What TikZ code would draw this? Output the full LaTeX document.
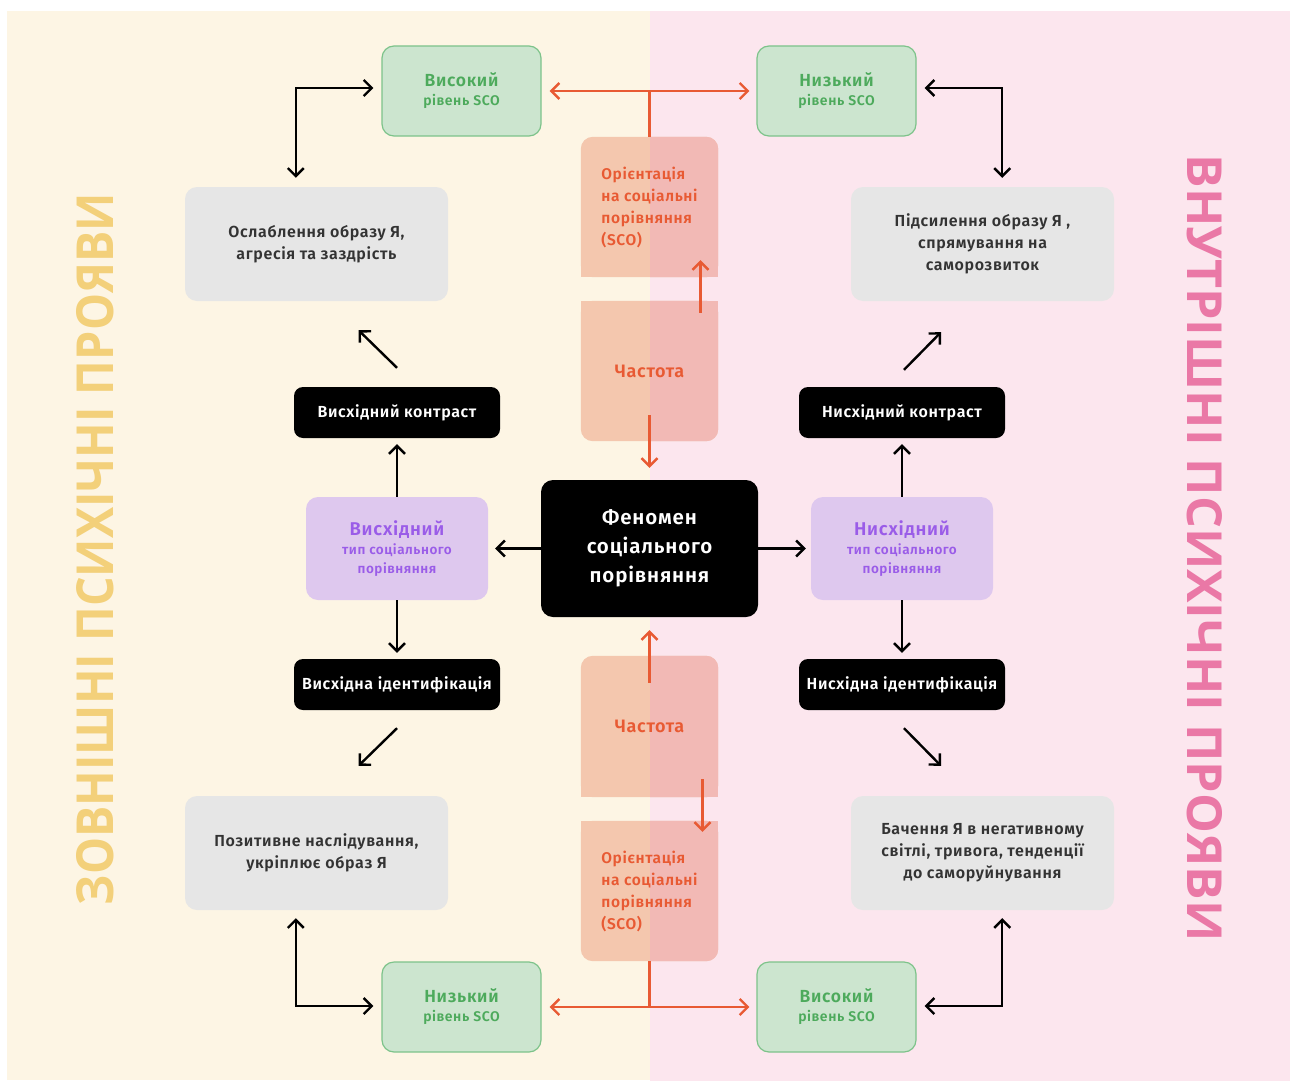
\documentclass[tikz,border=0pt]{standalone}
\usepackage{fontspec}
\setmainfont{Fira Sans}[BoldFont={Fira Sans SemiBold},LetterSpace=4]
\newfontfamily\sidefont{Open Sans}
\usetikzlibrary{arrows.meta,calc,backgrounds}
\definecolor{creamC}{HTML}{FDF5E4}
\definecolor{pinkC}{HTML}{FCE6EE}
\definecolor{grF}{HTML}{CCE5CF}
\definecolor{grD}{HTML}{7DC38A}
\definecolor{grT}{HTML}{4DAA5C}
\definecolor{gyF}{HTML}{E6E6E6}
\definecolor{gyT}{HTML}{333333}
\definecolor{puF}{HTML}{DEC8EE}
\definecolor{puT}{HTML}{9A5CE8}
\definecolor{orT}{HTML}{E85A33}
\definecolor{salL}{HTML}{F4C7AE}
\definecolor{salR}{HTML}{F2B9B5}
\definecolor{sideY}{HTML}{F3D07A}
\definecolor{sideP}{HTML}{EA78A6}
\newcommand\salfill[2]{%
  \fill[salL,rounded corners=12] #1; \fill[salL] #2;
  \begin{scope}\clip (650,0) rectangle (1290,1081);
    \fill[salR,rounded corners=12] #1; \fill[salR] #2;
  \end{scope}}
\begin{document}
\begin{tikzpicture}[x=1pt,y=-1pt,font=\bfseries,
  >={Straight Barb[length=8pt,width=16pt]},
  greenbox/.style={rounded corners=12,inner sep=0,align=center,minimum width=159,minimum height=90,fill=grF,draw=grD,line width=1.2,text=grT,font=\bfseries\fontsize{14}{19}\selectfont},
  greybox/.style={rounded corners=12,inner sep=0,align=center,minimum width=263,minimum height=114,fill=gyF,text=gyT,font=\bfseries\fontsize{16}{22}\selectfont},
  blackbox/.style={rounded corners=9,inner sep=0,align=center,minimum width=206,minimum height=51,fill=black,text=white,font=\bfseries\fontsize{16}{20}\selectfont},
  centerbox/.style={rounded corners=12,inner sep=0,align=center,minimum width=217,minimum height=137,fill=black,text=white,font=\bfseries\fontsize{20.5}{29}\selectfont},
  purplebox/.style={rounded corners=12,inner sep=0,align=center,minimum width=182,minimum height=103,fill=puF,text=puT,font=\bfseries\fontsize{13.5}{19}\selectfont},
  salbox/.style={inner sep=0,align=left,minimum width=137,minimum height=140,text=orT,font=\bfseries\fontsize{15.5}{22}\selectfont},
  barr/.style={draw=black,line width=2.4},
  oarr/.style={draw=orT,line width=2.4}]
\useasboundingbox (0,0) rectangle (1290,1081);

% nodes
\node[greenbox] (hiT) at (461.5,91) {{\fontsize{17.5}{19}\selectfont Високий}\\рівень SCO};
\node[greenbox] (loT) at (836.5,91) {{\fontsize{17.5}{19}\selectfont Низький}\\рівень SCO};
\node[greenbox] (loB) at (461.5,1007) {{\fontsize{17.5}{19}\selectfont Низький}\\рівень SCO};
\node[greenbox] (hiB) at (836.5,1007) {{\fontsize{17.5}{19}\selectfont Високий}\\рівень SCO};

\node[greybox] (gTL) at (316.5,244) {Ослаблення образу Я,\\агресія та заздрість};
\node[greybox] (gTR) at (982.5,244) {Підсилення образу Я ,\\спрямування на\\саморозвиток};
\node[greybox] (gBL) at (316.5,853) {Позитивне наслідування,\\укріплює образ Я};
\node[greybox] (gBR) at (982.5,853) {Бачення Я в негативному\\світлі, тривога, тенденції\\до саморуйнування};

\node[blackbox] (ctL) at (397,412.5) {Висхідний контраст};
\node[blackbox] (ctR) at (902,412.5) {Нисхідний контраст};
\node[blackbox] (idL) at (397,684.5) {Висхідна ідентифікація};
\node[blackbox] (idR) at (902,684.5) {Нисхідна ідентифікація};

\node[centerbox] (cen) at (649.5,548.5) {Феномен\\соціального\\порівняння};

\node[purplebox] (purL) at (397,548.5) {{\fontsize{18.5}{20}\selectfont Висхідний}\\тип соціального\\порівняння};
\node[purplebox] (purR) at (902,548.5) {{\fontsize{18.5}{20}\selectfont Нисхідний}\\тип соціального\\порівняння};

\node[salbox] (scoT) at (649.5,207) {Орієнтація\\на соціальні\\порівняння\\(SCO)};
\node[salbox,font=\bfseries\fontsize{18}{22}\selectfont] (freqT) at (649.5,371) {Частота};
\node[salbox,minimum height=141,font=\bfseries\fontsize{18}{22}\selectfont] (freqB) at (649.5,726.5) {Частота};
\node[salbox] (scoB) at (649.5,891) {Орієнтація\\на соціальні\\порівняння\\(SCO)};

% side texts
\node[rotate=90,inner sep=0,text=sideY] (sideL) at (95,549)
  {\resizebox{712pt}{37pt}{\sidefont\bfseries ЗОВНІШНІ ПСИХІЧНІ ПРОЯВИ}};
\node[rotate=-90,inner sep=0,text=sideP] (sideR) at (1205,548)
  {\resizebox{787pt}{35pt}{\sidefont\bfseries ВНУТРІШНІ ПСИХІЧНІ ПРОЯВИ}};

% backgrounds
\begin{scope}[on background layer]
  \fill[white] (0,0) rectangle (1290,1081);
  \fill[creamC] (7,11) rectangle (650,1080);
  \fill[pinkC] (650,11) rectangle (1290,1081);
  \salfill{(scoT.north west) rectangle (scoT.south east)}{(scoT.west) rectangle (scoT.south east)}
  \salfill{(freqT.north west) rectangle (freqT.south east)}{(freqT.north west) rectangle (freqT.east)}
  \salfill{(freqB.north west) rectangle (freqB.south east)}{(freqB.west) rectangle (freqB.south east)}
  \salfill{(scoB.north west) rectangle (scoB.south east)}{(scoB.north west) rectangle (scoB.east)}
\end{scope}

% orange connectors
\draw[oarr] (scoT.north) -- (scoT.north |- hiT.east);
\draw[oarr,<->] ($(hiT.east)+(8,0)$) -- ($(loT.west)+(-7,0)$);
\draw[oarr,->] ($(freqT.north)+(51,12)$) -- ($(scoT.south)+(51,-17)$);
\draw[oarr,->] ($(freqT.south)+(0,-26)$) -- ($(cen.north)+(0,-12)$);
\draw[oarr,->] ($(freqB.north)+(0,27)$) -- ($(cen.south)+(0,13)$);
\draw[oarr,->] ($(freqB.south)+(53,-18)$) -- ($(scoB.north)+(53,11)$);
\draw[oarr] (scoB.south) -- (scoB.south |- loB.east);
\draw[oarr,<->] ($(loB.east)+(8,0)$) -- ($(hiB.west)+(-7,0)$);

% black connectors
\draw[barr,->] (cen.west) -- ($(purL.east)+(7,0)$);
\draw[barr,->] (cen.east) -- ($(purR.west)+(-5,0)$);
\draw[barr,->] (purL.north) -- ($(ctL.south)+(0,6)$);
\draw[barr,->] (purL.south) -- ($(idL.north)+(0,-6)$);
\draw[barr,->] (purR.north) -- ($(ctR.south)+(0,6)$);
\draw[barr,->] (purR.south) -- ($(idR.north)+(0,-6)$);
\draw[barr,->] ($(ctL.north)+(0,-19)$) -- ($(gTL.south)+(42,29)$);
\draw[barr,->] ($(ctR.north)+(2,-17)$) -- ($(gTR.south)+(-41.5,31)$);
\draw[barr,->] ($(idL.south)+(0,18)$) -- ($(gBL.north)+(42,-30)$);
\draw[barr,->] ($(idR.south)+(2,18)$) -- ($(gBR.north)+(-41.5,-30)$);
\draw[barr,<->] ($(gTL.north west)+(111,-9)$) |- ($(hiT.west)+(-8,-3)$);
\draw[barr,<->] ($(loT.east)+(8,-3)$) -| ($(gTR.north east)+(-112,-9)$);
\draw[barr,<->] ($(gBL.south west)+(111,8)$) |- ($(loB.west)+(-8,-1)$);
\draw[barr,<->] ($(gBR.south east)+(-112,8)$) |- ($(hiB.east)+(8,-1)$);
\end{tikzpicture}
\end{document}
